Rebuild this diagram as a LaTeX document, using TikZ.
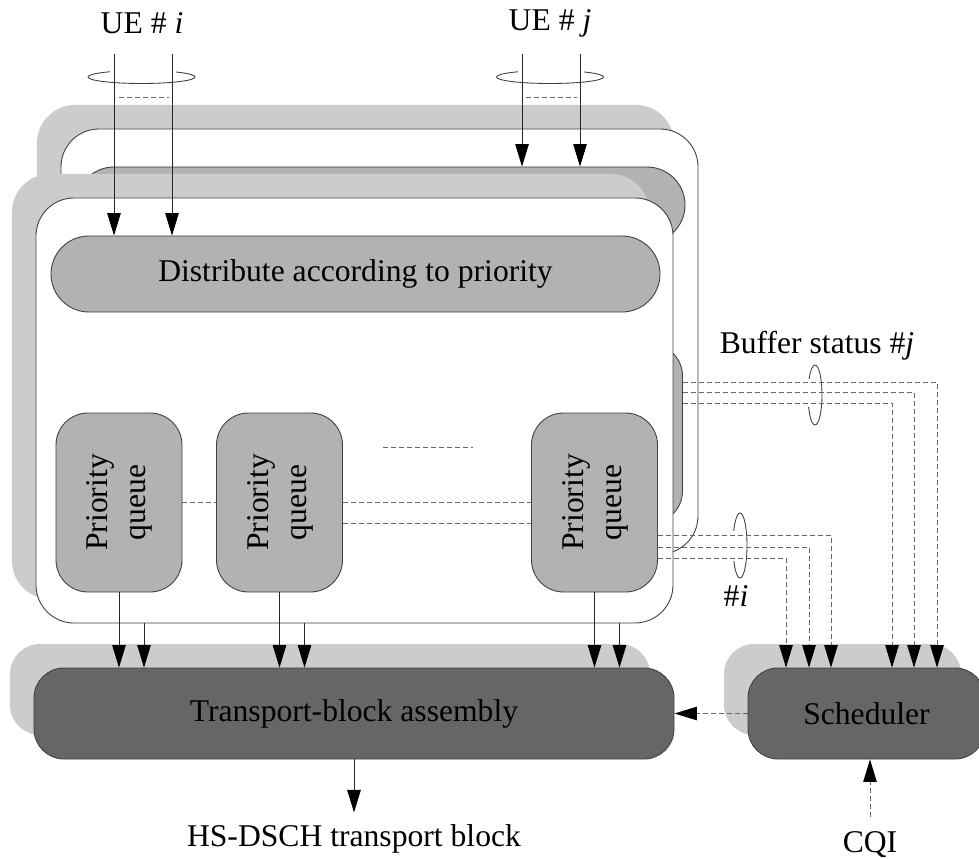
\documentclass[tikz,border=0pt]{standalone}
\usepackage{fontspec}
\setmainfont{Liberation Serif}
\usetikzlibrary{arrows.meta,shadows}

\definecolor{shadegray}{gray}{0.8}
\definecolor{pillgray}{gray}{0.7}
\definecolor{tbgray}{gray}{0.4}
\definecolor{edgegray}{gray}{0.25}
\definecolor{dashgray}{gray}{0.4}

\newcommand{\prioq}{\rotatebox{90}{\begin{tabular}{@{}c@{}}Priority\\queue\end{tabular}}}

\begin{document}
\begin{tikzpicture}[x=0.2mm, y=-0.2mm,
  font=\fontsize{18pt}{21.6pt}\selectfont, line width=0.5pt,
  backshadow/.style={drop shadow={shadow xshift=-4.8mm, shadow yshift=4.8mm, draw=none, fill=shadegray, opacity=1}},
  stack/.style={backshadow, draw=edgegray, fill=white, rounded corners=7.6mm, minimum width=127.4mm, minimum height=85mm},
  distpill/.style={draw=edgegray, fill=pillgray, rounded corners=7.6mm, minimum width=121.8mm, minimum height=15.2mm},
  queue/.style={draw=edgegray, fill=pillgray, rounded corners=6.4mm, minimum width=25.2mm, minimum height=35.8mm, inner sep=0pt},
  block/.style={backshadow, draw=edgegray, fill=tbgray, rounded corners=6mm, minimum height=18.2mm},
  link/.style={draw=dashgray, dash pattern=on 1mm off 0.6mm},
  arrowtip/.style={arrows={-Triangle[length=4.5mm, width=2.7mm, color=black]}}]
\useasboundingbox (0,0) rectangle (979,859);

%back stack (UE j) first, front stack (UE i) over it
\foreach \s/\dx/\dy in {j/25/-69, i/0/0} {
  \begin{scope}[shift={(\dx,\dy)}]
    \node[stack] (box\s) at (354.5,410.5) {};
    \node[distpill] (dist\s) at (355.5,274) {Distribute according to priority};
    \node[queue] (qa\s) at (119,502.5) {\prioq};
    \node[queue] (qb\s) at (279.5,502.5) {\prioq};
    \node[queue] (qc\s) at (594.5,502.5) {\prioq};
    \draw[link] (qa\s) -- (qb\s);
    \draw[link] (qb\s) -- (qc\s);
    \draw[link] ([yshift=-4.2mm]qb\s.east) -- ([yshift=-4.2mm]qc\s.west);
    \draw[link] (383,447) -- (473,447);
  \end{scope}
}

%incoming flows
\node (uei) at (142,23) {UE \# \textit{i}};
\node (uej) at (550,23) {UE \# \textit{j}};
\draw[edgegray] (141.5,77) ellipse [x radius=53.5, y radius=6.5];
\draw[edgegray] (550,77) ellipse [x radius=53.5, y radius=6.5];
\fill[white] (110,68) rectangle (176,75);
\fill[white] (518,68) rectangle (584,75);
\draw[link] (119,97) -- (169,97);
\draw[link] (526,97) -- (577,97);
\foreach \x in {114,172} {
  \coordinate (ini\x) at (\x,54);
  \draw[arrowtip, black!85] (ini\x) -- (ini\x |- disti.north);
}
\foreach \x in {522,580} {
  \coordinate (inj\x) at (\x,54);
  \draw[arrowtip, black!85] (inj\x) -- (inj\x |- distj.north);
}

\node[block, minimum width=128mm] (tb) at (354,713.5) {Transport-block assembly};
\node[block, minimum width=47.4mm] (sched) at (866.5,713.5) {Scheduler};

%queues -> transport block
\foreach \q in {qa,qb,qc} {
  \draw[arrowtip, black!85] (\q i.south) -- (\q i.south |- tb.north);
  \draw[arrowtip, black!85] (\q j.south |- boxi.south) -- (\q j.south |- tb.north);
}

%buffer status
\node (bufj) at (817,346) {Buffer status \#\textit{j}};
\node (bufi) at (736,596) {\#\textit{i}};
\draw[edgegray] (815,395) ellipse [x radius=7, y radius=30];
\draw[edgegray] (740,545.5) ellipse [x radius=7, y radius=32.5];
\fill[white] (805,379) rectangle (812,407);
\fill[white] (730,531) rectangle (737,561);
\foreach \dy/\dx in {10.3/14.1, 8.3/9.5, 6.1/5.1}
  \draw[link, arrowtip] ([yshift=\dy mm]qcj.east) -| ([xshift=\dx mm]sched.north);
\foreach \dy/\dx in {6.5/7.1, 8.9/11.5, 11.1/16.1}
  \draw[link, arrowtip] ([yshift=-\dy mm]qci.east) -| ([xshift=-\dx mm]sched.north);

\draw[link, arrowtip] (sched) -- (tb);

%outputs
\node (hsdsch) at (354,839) {HS-DSCH transport block};
\draw[arrowtip, black!85] (tb.south) -- ++(0,53);
\node (cqi) at (870,845) {CQI};
\draw[link, arrowtip] ([yshift=1.8mm]cqi.north) -- (cqi.north |- sched.south);

\end{tikzpicture}
\end{document}
